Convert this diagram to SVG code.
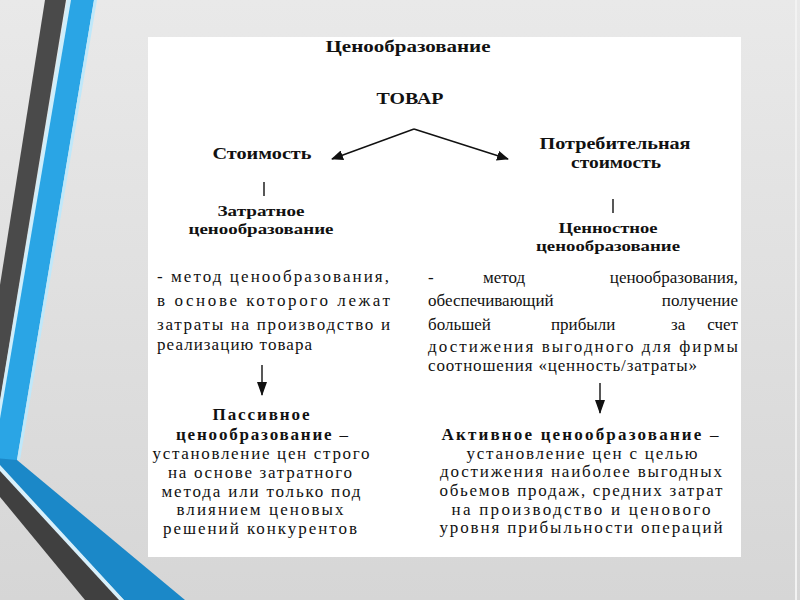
<svg xmlns="http://www.w3.org/2000/svg" width="800" height="600" viewBox="0 0 800 600">
<defs>
<linearGradient id="bg" x1="0" y1="0" x2="0" y2="1">
<stop offset="0" stop-color="#e9e9e9"/>
<stop offset="1" stop-color="#d6d6d6"/>
</linearGradient>
<marker id="ah" viewBox="0 0 12 10" refX="11" refY="5" markerWidth="12" markerHeight="10" markerUnits="userSpaceOnUse" orient="auto">
<path d="M0,0 L12,5 L0,10 Z" fill="#111"/>
</marker>
<marker id="ahd" viewBox="0 0 14 10" refX="13" refY="5" markerWidth="14" markerHeight="10" markerUnits="userSpaceOnUse" orient="auto">
<path d="M0,0 L14,5 L0,10 Z" fill="#111"/>
</marker>
<style>
.t{font-family:'Liberation Serif','Times New Roman',serif;fill:#111;}
.b{font-weight:bold;}
.p{font-size:17px;}
.c{text-anchor:middle;}
.ln{stroke:#111;stroke-width:1.4;fill:none;}
</style>
</defs>
<rect width="800" height="600" fill="url(#bg)"/>
<line x1="796" y1="0" x2="796" y2="600" stroke="#f2f2f2" stroke-width="2"/>
<g id="decor">
<polygon points="45,0 66,0 0,400 0,285" fill="#4a4a4a"/>
<polygon points="67,0 71,0 -6,462 -10,462" fill="#cfeefb"/>
<polygon points="71,0 94,0 17,460 -7,460" fill="#2aa5e5"/>
<polygon points="94,0 97,0 20,460 17,460" fill="#bfe8fa"/>
<polygon points="-7,458 17,460 185,600 124,600 0,467" fill="#1b88c8"/>
<polygon points="0,465 124,600 119,600 0,471" fill="#d8f0fb"/>
<polygon points="0,471 119,600 85,600 0,497" fill="#404040"/>
</g>
<rect x="148" y="37" width="593" height="520" fill="#ffffff"/>
<g id="title"><text class="t b c" font-size="16" x="408" y="52" textLength="165" lengthAdjust="spacingAndGlyphs">Ценообразование</text></g>
<g id="tovar"><text class="t b c" font-size="17" x="410" y="104" textLength="67" lengthAdjust="spacingAndGlyphs">ТОВАР</text></g>
<g id="stoimost"><text class="t b c" font-size="16" x="262" y="159" textLength="99" lengthAdjust="spacingAndGlyphs">Стоимость</text></g>
<g id="potreb"><text class="t b c" font-size="16" x="615" y="149" textLength="151" lengthAdjust="spacingAndGlyphs">Потребительная</text><text class="t b c" font-size="16" x="616" y="168" textLength="90" lengthAdjust="spacingAndGlyphs">стоимость</text></g>
<g id="zatratnoe"><text class="t b c" font-size="15" x="261" y="216" textLength="87" lengthAdjust="spacingAndGlyphs">Затратное</text><text class="t b c" font-size="15" x="261" y="234" textLength="145" lengthAdjust="spacingAndGlyphs">ценообразование</text></g>
<g id="cennostnoe"><text class="t b c" font-size="15" x="608" y="233" textLength="99" lengthAdjust="spacingAndGlyphs">Ценностное</text><text class="t b c" font-size="15" x="608" y="251" textLength="144" lengthAdjust="spacingAndGlyphs">ценообразование</text></g>
<g id="leftdef" class="t p">
<text x="157" y="282" textLength="232" lengthAdjust="spacing">- метод ценообразования,</text>
<text x="157" y="306" textLength="233" lengthAdjust="spacing">в основе которого лежат</text>
<text x="157" y="330" textLength="233" lengthAdjust="spacing">затраты на производство и</text>
<text x="157" y="350" textLength="155" lengthAdjust="spacing">реализацию товара</text>
</g>
<g id="rightdef" class="t p">
<text y="283"><tspan x="428">-</tspan><tspan x="483">метод</tspan><tspan x="738" text-anchor="end">ценообразования,</tspan></text>
<text y="306"><tspan x="428">обеспечивающий</tspan><tspan x="738" text-anchor="end">получение</tspan></text>
<text y="330"><tspan x="428">большей</tspan><tspan x="551">прибыли</tspan><tspan x="671">за</tspan><tspan x="738" text-anchor="end">счет</tspan></text>
<text x="428" y="352" textLength="310" lengthAdjust="spacing">достижения выгодного для фирмы</text>
<text x="428" y="371" textLength="269" lengthAdjust="spacing">соотношения «ценность/затраты»</text>
</g>
<g id="passive" class="t p c">
<text class="b" x="261" y="420" textLength="97" lengthAdjust="spacing">Пассивное</text>
<text x="262" y="440" textLength="172" lengthAdjust="spacing"><tspan class="b">ценообразование</tspan> –</text>
<text x="261" y="459" textLength="217" lengthAdjust="spacing">установление цен строго</text>
<text x="260" y="478" textLength="184" lengthAdjust="spacing">на основе затратного</text>
<text x="261" y="497" textLength="199" lengthAdjust="spacing">метода или только под</text>
<text x="260" y="515" textLength="167" lengthAdjust="spacing">влиянием ценовых</text>
<text x="260" y="534" textLength="194" lengthAdjust="spacing">решений конкурентов</text>
</g>
<g id="active" class="t p c">
<text x="580" y="440" textLength="277" lengthAdjust="spacing"><tspan class="b">Активное ценообразование</tspan> –</text>
<text x="582" y="459" textLength="231" lengthAdjust="spacing">установление цен с целью</text>
<text x="581" y="477" textLength="282" lengthAdjust="spacing">достижения наиболее выгодных</text>
<text x="581" y="496" textLength="283" lengthAdjust="spacing">обьемов продаж, средних затрат</text>
<text x="581" y="515" textLength="259" lengthAdjust="spacing">на производство и ценового</text>
<text x="581" y="533" textLength="283" lengthAdjust="spacing">уровня прибыльности операций</text>
</g>
<g id="connectors">
<path class="ln" d="M414,129 L332,159" marker-end="url(#ah)"/>
<path class="ln" d="M414,129 L508,159" marker-end="url(#ah)"/>
<line class="ln" x1="264" y1="182" x2="264" y2="196"/>
<line class="ln" x1="613" y1="199" x2="613" y2="213"/>
<path class="ln" d="M262,365 L262,395" marker-end="url(#ahd)"/>
<path class="ln" d="M600,383 L600,413" marker-end="url(#ahd)"/>
</g>
</svg>
